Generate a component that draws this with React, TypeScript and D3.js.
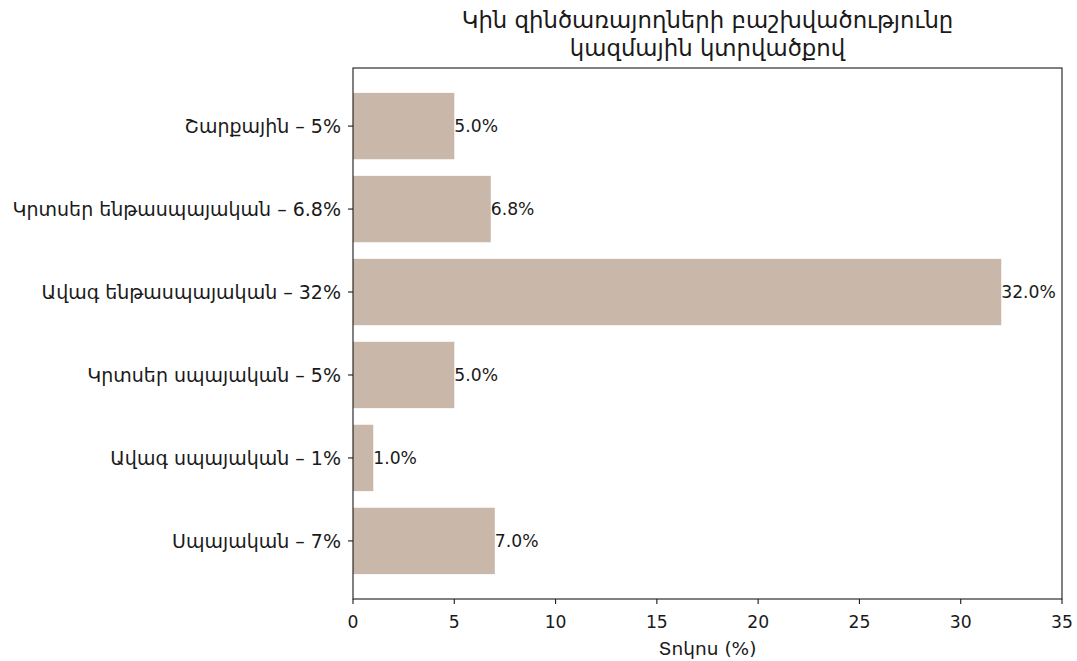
import { useMemo } from 'react'
import * as d3 from 'd3'

const WIDTH = 1077
const HEIGHT = 661
const MARGIN = { top: 68, right: 15, bottom: 62, left: 353 }

const categories = [
  'Շարքային – 5%',
  'Կրտսեր ենթասպայական – 6.8%',
  'Ավագ ենթասպայական – 32%',
  'Կրտսեր սպայական – 5%',
  'Ավագ սպայական – 1%',
  'Սպայական – 7%',
]
const values = [5.0, 6.8, 32.0, 5.0, 1.0, 7.0]
const xTicks = [0, 5, 10, 15, 20, 25, 30, 35]

const titleLines = ['Կին զինծառայողների բաշխվածությունը', 'կազմային կտրվածքով']
const xLabel = 'Տոկոս (%)'

const BAR_COLOR = '#c9b7a9'
const TEXT = '#1a1a1a'
const FONT = '"DejaVu Sans", sans-serif'
const NUM_SIZE = 17.2
const LABEL_SIZE = 19

export default function App() {
  const innerW = WIDTH - MARGIN.left - MARGIN.right
  const innerH = HEIGHT - MARGIN.top - MARGIN.bottom

  const x = useMemo(() => d3.scaleLinear().domain([0, 35]).range([0, innerW]), [innerW])
  const y = useMemo(
    () =>
      d3
        .scaleBand()
        .domain(categories)
        .range([0, innerH])
        .paddingInner(0.2)
        .paddingOuter(0.3),
    [innerH]
  )

  return (
    <svg width={WIDTH} height={HEIGHT} style={{ display: 'block', position: 'absolute', left: 0, top: 0 }}>
      <rect width={WIDTH} height={HEIGHT} fill="#fff" />
      {titleLines.map((t, i) => (
        <text
          key={i}
          x={MARGIN.left + innerW / 2}
          y={28 + i * 28}
          textAnchor="middle"
          fontFamily={FONT}
          fontSize={22.8}
          fill={TEXT}
        >
          {t}
        </text>
      ))}
      <g transform={`translate(${MARGIN.left}, ${MARGIN.top})`}>
        {categories.map((c, i) => {
          const by = y(c) as number
          const cy = by + y.bandwidth() / 2
          return (
            <g key={c}>
              <rect x={x(0)} y={by} width={x(values[i]) - x(0)} height={y.bandwidth()} fill={BAR_COLOR} />
              <text x={x(values[i])} y={cy} dy="0.36em" fontFamily={FONT} fontSize={NUM_SIZE} fill={TEXT}>
                {values[i].toFixed(1)}%
              </text>
              <line x1={-5} x2={0} y1={cy} y2={cy} stroke={TEXT} strokeWidth={1.1} />
              <text
                x={-12}
                y={cy}
                dy="0.36em"
                textAnchor="end"
                fontFamily={FONT}
                fontSize={LABEL_SIZE}
                fill={TEXT}
              >
                {c}
              </text>
            </g>
          )
        })}
        <rect x={0} y={0} width={innerW} height={innerH} fill="none" stroke={TEXT} strokeWidth={1.1} />
        {xTicks.map((t) => (
          <g key={t} transform={`translate(${x(t)}, ${innerH})`}>
            <line y1={0} y2={5} stroke={TEXT} strokeWidth={1.1} />
            <text y={29} textAnchor="middle" fontFamily={FONT} fontSize={NUM_SIZE} fill={TEXT}>
              {t}
            </text>
          </g>
        ))}
        <text
          x={innerW / 2}
          y={innerH + 56}
          textAnchor="middle"
          fontFamily={FONT}
          fontSize={18.5}
          fill={TEXT}
        >
          {xLabel}
        </text>
      </g>
    </svg>
  )
}
